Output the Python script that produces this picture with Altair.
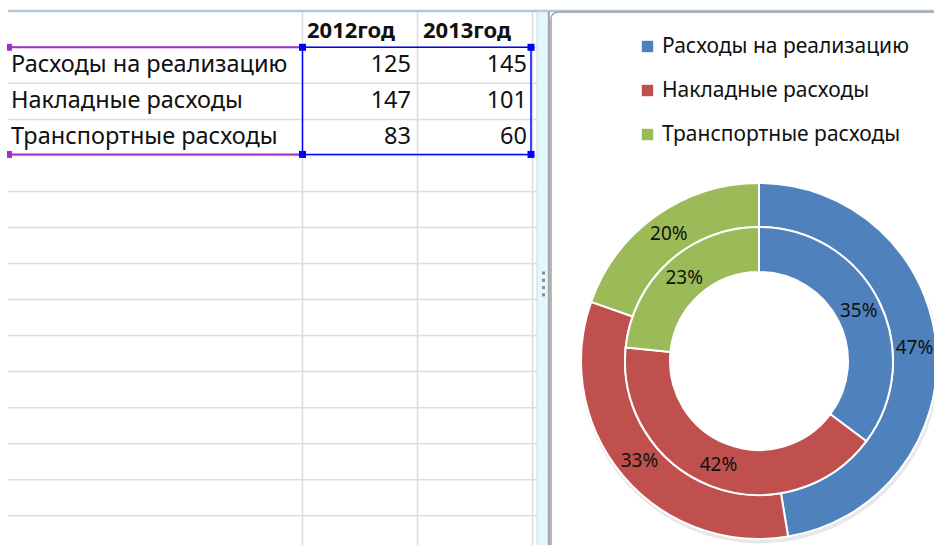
import math
import altair as alt
import pandas as pd

# ---- data ----
categories = ["Расходы на реализацию", "Накладные расходы", "Транспортные расходы"]
years = ["2012год", "2013год"]
values_2012 = [125, 147, 83]
values_2013 = [145, 101, 60]
labels_2012 = ["35%", "42%", "23%"]
labels_2013 = ["47%", "33%", "20%"]
colors = ["#4F81BD", "#C0504D", "#9BBB59"]

FONT = "Noto Sans"
W, H = 934, 545
CX, CY = 759, 361
ROW0, ROWH = 11.3, 36.03

PX = alt.Scale(domain=[0, W], range=[0, W], nice=False, zero=False)
PY = alt.Scale(domain=[0, H], range=[0, H], nice=False, zero=False)

table = pd.DataFrame({
    "category": categories,
    "v2012": values_2012,
    "v2013": values_2013,
    "row": list(range(len(categories))),
})
header = pd.DataFrame({"year": years, "col": [0, 1]})
ring = pd.DataFrame({
    "category": categories * 2,
    "year": [years[0]] * 3 + [years[1]] * 3,
    "value": values_2012 + values_2013,
    "label": labels_2012 + labels_2013,
    "ord": [0, 1, 2, 0, 1, 2],
})
one = pd.DataFrame({"a": [0]})

layers = []

# spreadsheet grid
hgrid = (alt.Chart(pd.DataFrame({"k": list(range(1, 15))}))
         .transform_calculate(gy=f"{ROW0} + {ROWH} * datum.k")
         .mark_rule(color="#DADCDD", strokeWidth=1.5)
         .encode(y=alt.Y("gy:Q", scale=PY, axis=None), x=alt.value(8), x2=alt.value(537)))
layers.append(hgrid)
for vx in [302.5, 417.5, 532.5]:
    layers.append(alt.Chart(one).mark_rule(color="#DADCDD", strokeWidth=1.5)
                  .encode(x=alt.value(vx), y=alt.value(ROW0), y2=alt.value(H)))
layers.append(alt.Chart(one).mark_rule(color="#B4C6DA", strokeWidth=2.5)
              .encode(x=alt.value(8), x2=alt.value(W), y=alt.value(11)))

# splitter
layers.append(alt.Chart(one).mark_rect(fill="#E4F8FB", stroke="#C9DCE0", strokeWidth=1)
              .encode(x=alt.value(537), x2=alt.value(548), y=alt.value(12), y2=alt.value(H + 5)))
layers.append(alt.Chart(one).mark_rule(color="#8E8E8E", strokeWidth=1.5)
              .encode(x=alt.value(549), y=alt.value(12), y2=alt.value(H)))
dots = (alt.Chart(pd.DataFrame({"k": [0, 1, 2, 3]}))
        .transform_calculate(dy="273 + 7.3 * datum.k")
        .mark_square(size=9, color="#808080", opacity=0.9)
        .encode(y=alt.Y("dy:Q", scale=PY, axis=None), x=alt.value(543.5)))
layers.append(dots)

# selection borders
PURPLE = "#A12FD0"
BLUE = "#0000FF"
ytop, ybot = ROW0 + ROWH, ROW0 + 4 * ROWH - 1
for yy in [ytop, ybot]:
    layers.append(alt.Chart(one).mark_rule(color=PURPLE, strokeWidth=2)
                  .encode(x=alt.value(9), x2=alt.value(302), y=alt.value(yy)))
    layers.append(alt.Chart(one).mark_rect(color=PURPLE)
                  .encode(x=alt.value(7), x2=alt.value(12), y=alt.value(yy - 3.5), y2=alt.value(yy + 3.5)))
layers.append(alt.Chart(one).mark_rect(fill=None, stroke=BLUE, strokeWidth=1.5)
              .encode(x=alt.value(302.5), x2=alt.value(531), y=alt.value(ytop), y2=alt.value(ybot)))
for hx in [302.5, 531]:
    for hy in [ytop, ybot]:
        layers.append(alt.Chart(one).mark_rect(color=BLUE)
                      .encode(x=alt.value(hx - 3.5), x2=alt.value(hx + 3.5),
                              y=alt.value(hy - 3.5), y2=alt.value(hy + 3.5)))

# table texts
TFS = 23.5
tbase = alt.Chart(table).transform_calculate(ty=f"{ROW0} + {ROWH} * (datum.row + 1.5)")
layers.append(tbase.mark_text(align="left", baseline="middle", font=FONT, fontSize=TFS, color="#111111")
              .encode(y=alt.Y("ty:Q", scale=PY, axis=None), x=alt.value(11), text="category:N"))
layers.append(tbase.mark_text(align="right", baseline="middle", font=FONT, fontSize=TFS, color="#111111")
              .encode(y=alt.Y("ty:Q", scale=PY, axis=None), x=alt.value(411), text="v2012:Q"))
layers.append(tbase.mark_text(align="right", baseline="middle", font=FONT, fontSize=TFS, color="#111111")
              .encode(y=alt.Y("ty:Q", scale=PY, axis=None), x=alt.value(527), text="v2013:Q"))
layers.append(alt.Chart(header).transform_calculate(hx="307 + 116 * datum.col")
              .mark_text(align="left", baseline="middle", font=FONT, fontSize=22, fontWeight="bold", color="#111111")
              .encode(x=alt.X("hx:Q", scale=PX, axis=None), y=alt.value(31), text="year:N"))

# chart panel
layers.append(alt.Chart(one).mark_rect(fill="white", stroke="#A0A0A0", strokeWidth=1.5, cornerRadius=7)
              .encode(x=alt.value(551), x2=alt.value(W + 20), y=alt.value(12), y2=alt.value(H + 20)))

# doughnut
color_enc = alt.Color(
    "category:N",
    scale=alt.Scale(domain=categories, range=colors),
    legend=alt.Legend(orient="none", legendX=637, legendY=36, title=None, symbolType="square",
                      symbolSize=130, symbolStrokeWidth=0, labelFont=FONT, labelFontSize=21,
                      labelColor="#111111", labelLimit=400, labelOffset=4, rowPadding=22, padding=0),
)
theta_enc = alt.Theta("frac:Q", stack=True, scale=alt.Scale(domain=[0, 1], range=[0, 2 * math.pi]))

def ring_layers(year, r_in, r_out):
    base = (alt.Chart(ring).transform_filter(alt.datum.year == year)
            .transform_joinaggregate(total="sum(value)")
            .transform_calculate(frac="datum.value / datum.total"))
    arcs = base.mark_arc(innerRadius=r_in, outerRadius=r_out, stroke="white", strokeWidth=2).encode(
        theta=theta_enc, color=color_enc, order=alt.Order("ord:Q"),
        x=alt.value(CX), y=alt.value(CY))
    txt = base.mark_text(radius=(r_in + r_out) / 2, font=FONT, fontSize=19, color="#111111",
                         baseline="middle").encode(
        theta=theta_enc, text="label:N", order=alt.Order("ord:Q"),
        x=alt.value(CX), y=alt.value(CY))
    return arcs, txt

# soft shadow under the doughnut
layers.append(alt.Chart(one).mark_arc(innerRadius=165, outerRadius=179.5, color="#000000", opacity=0.09)
              .encode(theta=alt.value(0), theta2=alt.value(2 * math.pi),
                      x=alt.value(CX + 1), y=alt.value(CY + 3)))

a_in, t_in = ring_layers(years[0], 89, 134)
a_out, t_out = ring_layers(years[1], 134, 178)
layers += [a_out, a_in, t_out, t_in]

chart = (alt.layer(*layers)
         .properties(width=W, height=H, padding=0, autosize="none", background="white")
         .configure_view(stroke=None))

chart.save("out.html", embed_options={"renderer": "svg", "actions": False})
